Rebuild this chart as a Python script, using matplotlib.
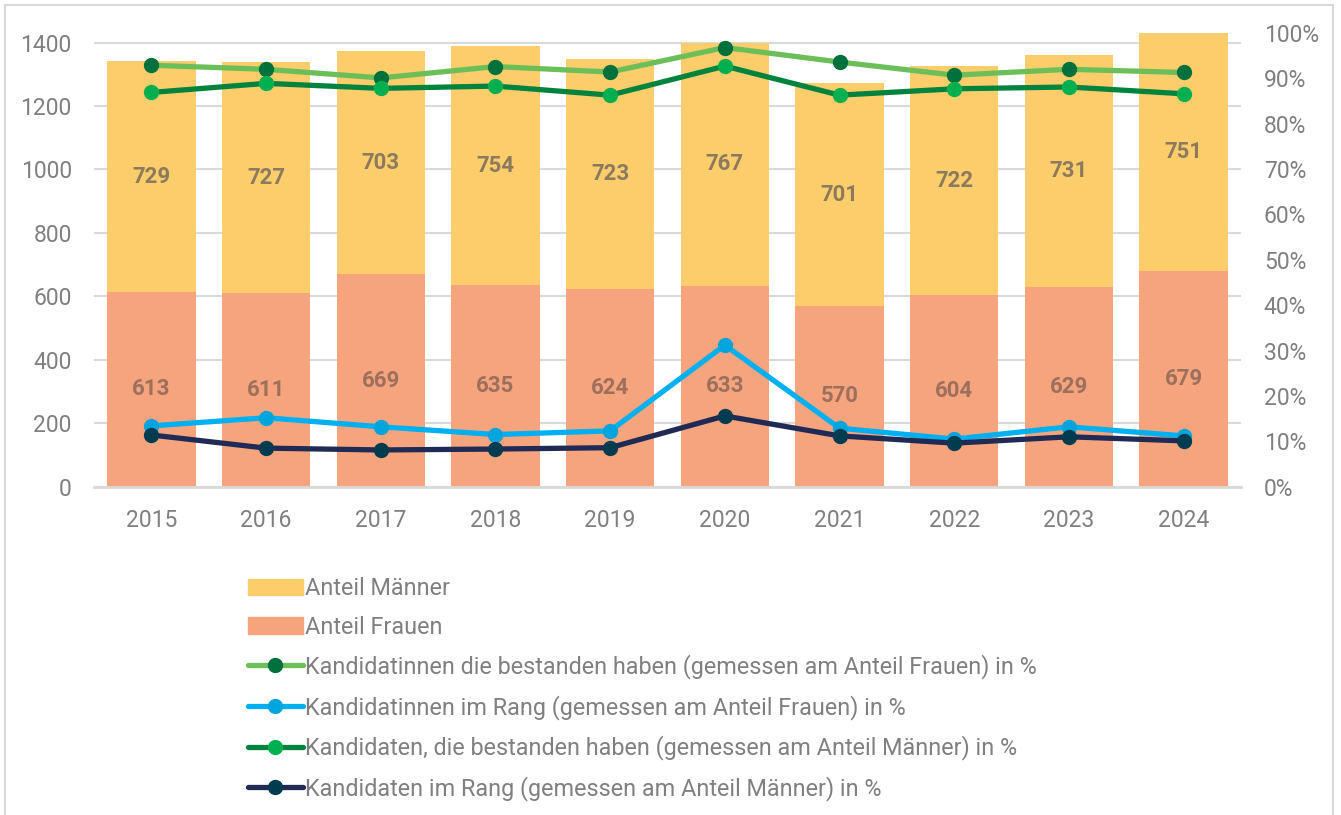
import numpy as np
import matplotlib
matplotlib.use('Agg')
import matplotlib.pyplot as plt
from matplotlib.patches import Rectangle
from matplotlib.lines import Line2D
from matplotlib.patches import Patch

plt.rcParams['font.family'] = ['Roboto', 'DejaVu Sans']

# --- Daten ---
jahre = ['2015', '2016', '2017', '2018', '2019', '2020', '2021', '2022', '2023', '2024']
anteil_frauen = [613, 611, 669, 635, 624, 633, 570, 604, 629, 679]
anteil_maenner = [729, 727, 703, 754, 723, 767, 701, 722, 731, 751]

# Anteile in %
frauen_bestanden = [92.9, 92.0, 90.1, 92.6, 91.4, 96.8, 93.6, 90.7, 92.0, 91.3]
frauen_rang = [13.4, 15.2, 13.2, 11.5, 12.3, 31.2, 12.9, 10.5, 13.2, 11.2]
maenner_bestanden = [86.9, 88.9, 87.8, 88.3, 86.3, 92.7, 86.3, 87.7, 88.1, 86.6]
maenner_rang = [11.4, 8.5, 8.1, 8.3, 8.6, 15.6, 11.2, 9.6, 11.0, 10.1]

GRAU = '#808080'
GRID = '#D9D9D9'

fig = plt.figure(figsize=(13.41, 8.15), dpi=100)
ax = fig.add_axes([94 / 1341, 1 - 486.7 / 815, (1241 - 94) / 1341, (486.7 - 33) / 815])
x = np.arange(len(jahre))

ax.bar(x, anteil_frauen, width=0.77, color='#F6A47D', zorder=2)
ax.bar(x, anteil_maenner, width=0.77, bottom=anteil_frauen, color='#FDCD6B', zorder=2)

for i in range(len(jahre)):
    ax.text(x[i], anteil_frauen[i] / 2, str(anteil_frauen[i]), ha='center', va='center',
            fontsize=16, fontweight='bold', color='#9C705C', zorder=3)
    ax.text(x[i], anteil_frauen[i] + anteil_maenner[i] / 2, str(anteil_maenner[i]),
            ha='center', va='center', fontsize=16, fontweight='bold', color='#8B7B5C', zorder=3)

ax.set_xlim(-0.5, len(jahre) - 0.5)
ax.set_ylim(0, 1430)
ax.set_yticks(range(0, 1401, 200))
ax.set_xticks(x)
ax.set_xticklabels(jahre)
ax.grid(axis='y', color=GRID, linewidth=1.5, zorder=0)
ax.set_axisbelow(True)
for s in ['top', 'right', 'left']:
    ax.spines[s].set_visible(False)
ax.spines['bottom'].set_color(GRID)
ax.spines['bottom'].set_linewidth(2)
ax.tick_params(axis='both', length=0, labelsize=16.5, labelcolor=GRAU)
ax.tick_params(axis='y', pad=16)
ax.tick_params(axis='x', pad=16)

ax2 = ax.twinx()
ax2.set_ylim(0, 1)
ax2.set_yticks(np.arange(0, 1.01, 0.1))
ax2.set_yticklabels([f'{int(round(v * 100))}%' for v in np.arange(0, 1.01, 0.1)])
for s in ax2.spines.values():
    s.set_visible(False)
ax2.tick_params(axis='y', length=0, labelsize=16.5, labelcolor=GRAU, pad=16.5)

serien = [
    (frauen_bestanden, '#6CBF58', '#00703C'),
    (frauen_rang, '#00B0F0', '#00A5DE'),
    (maenner_bestanden, '#00843D', '#00B050'),
    (maenner_rang, '#1F2B55', '#003C50'),
]
for werte, lc, mc in serien:
    ax2.plot(x, np.array(werte) / 100, color=lc, linewidth=3.8, marker='o', markersize=10,
             markerfacecolor=mc, markeredgecolor=mc, solid_capstyle='round', zorder=4)

labels = ['Anteil Männer', 'Anteil Frauen',
          'Kandidatinnen die bestanden haben (gemessen am Anteil Frauen) in %',
          'Kandidatinnen im Rang (gemessen am Anteil Frauen) in %',
          'Kandidaten, die bestanden haben (gemessen am Anteil Männer) in %',
          'Kandidaten im Rang (gemessen am Anteil Männer) in %']
handles = [Patch(color='#FDCD6B'), Patch(color='#F6A47D')]
for werte, lc, mc in serien:
    handles.append(Line2D([], [], color=lc, linewidth=3.8, marker='o', markersize=10,
                          markerfacecolor=mc, markeredgecolor=mc, solid_capstyle='round'))

leg = fig.legend(handles, labels, loc='upper left', bbox_to_anchor=(248 / 1341, 1 - 577 / 815),
                 frameon=False, fontsize=16.8, handlelength=2.35, handletextpad=0.1,
                 labelspacing=0.67, borderpad=0, borderaxespad=0)
for t in leg.get_texts():
    t.set_color(GRAU)

fig.patches.append(Rectangle((5 / 1341, -0.01), (1333 - 5) / 1341, 1 - 5 / 815 + 0.01,
                             transform=fig.transFigure, fill=False, edgecolor=GRID,
                             linewidth=1.5))

fig.savefig('out.png', dpi=100)
